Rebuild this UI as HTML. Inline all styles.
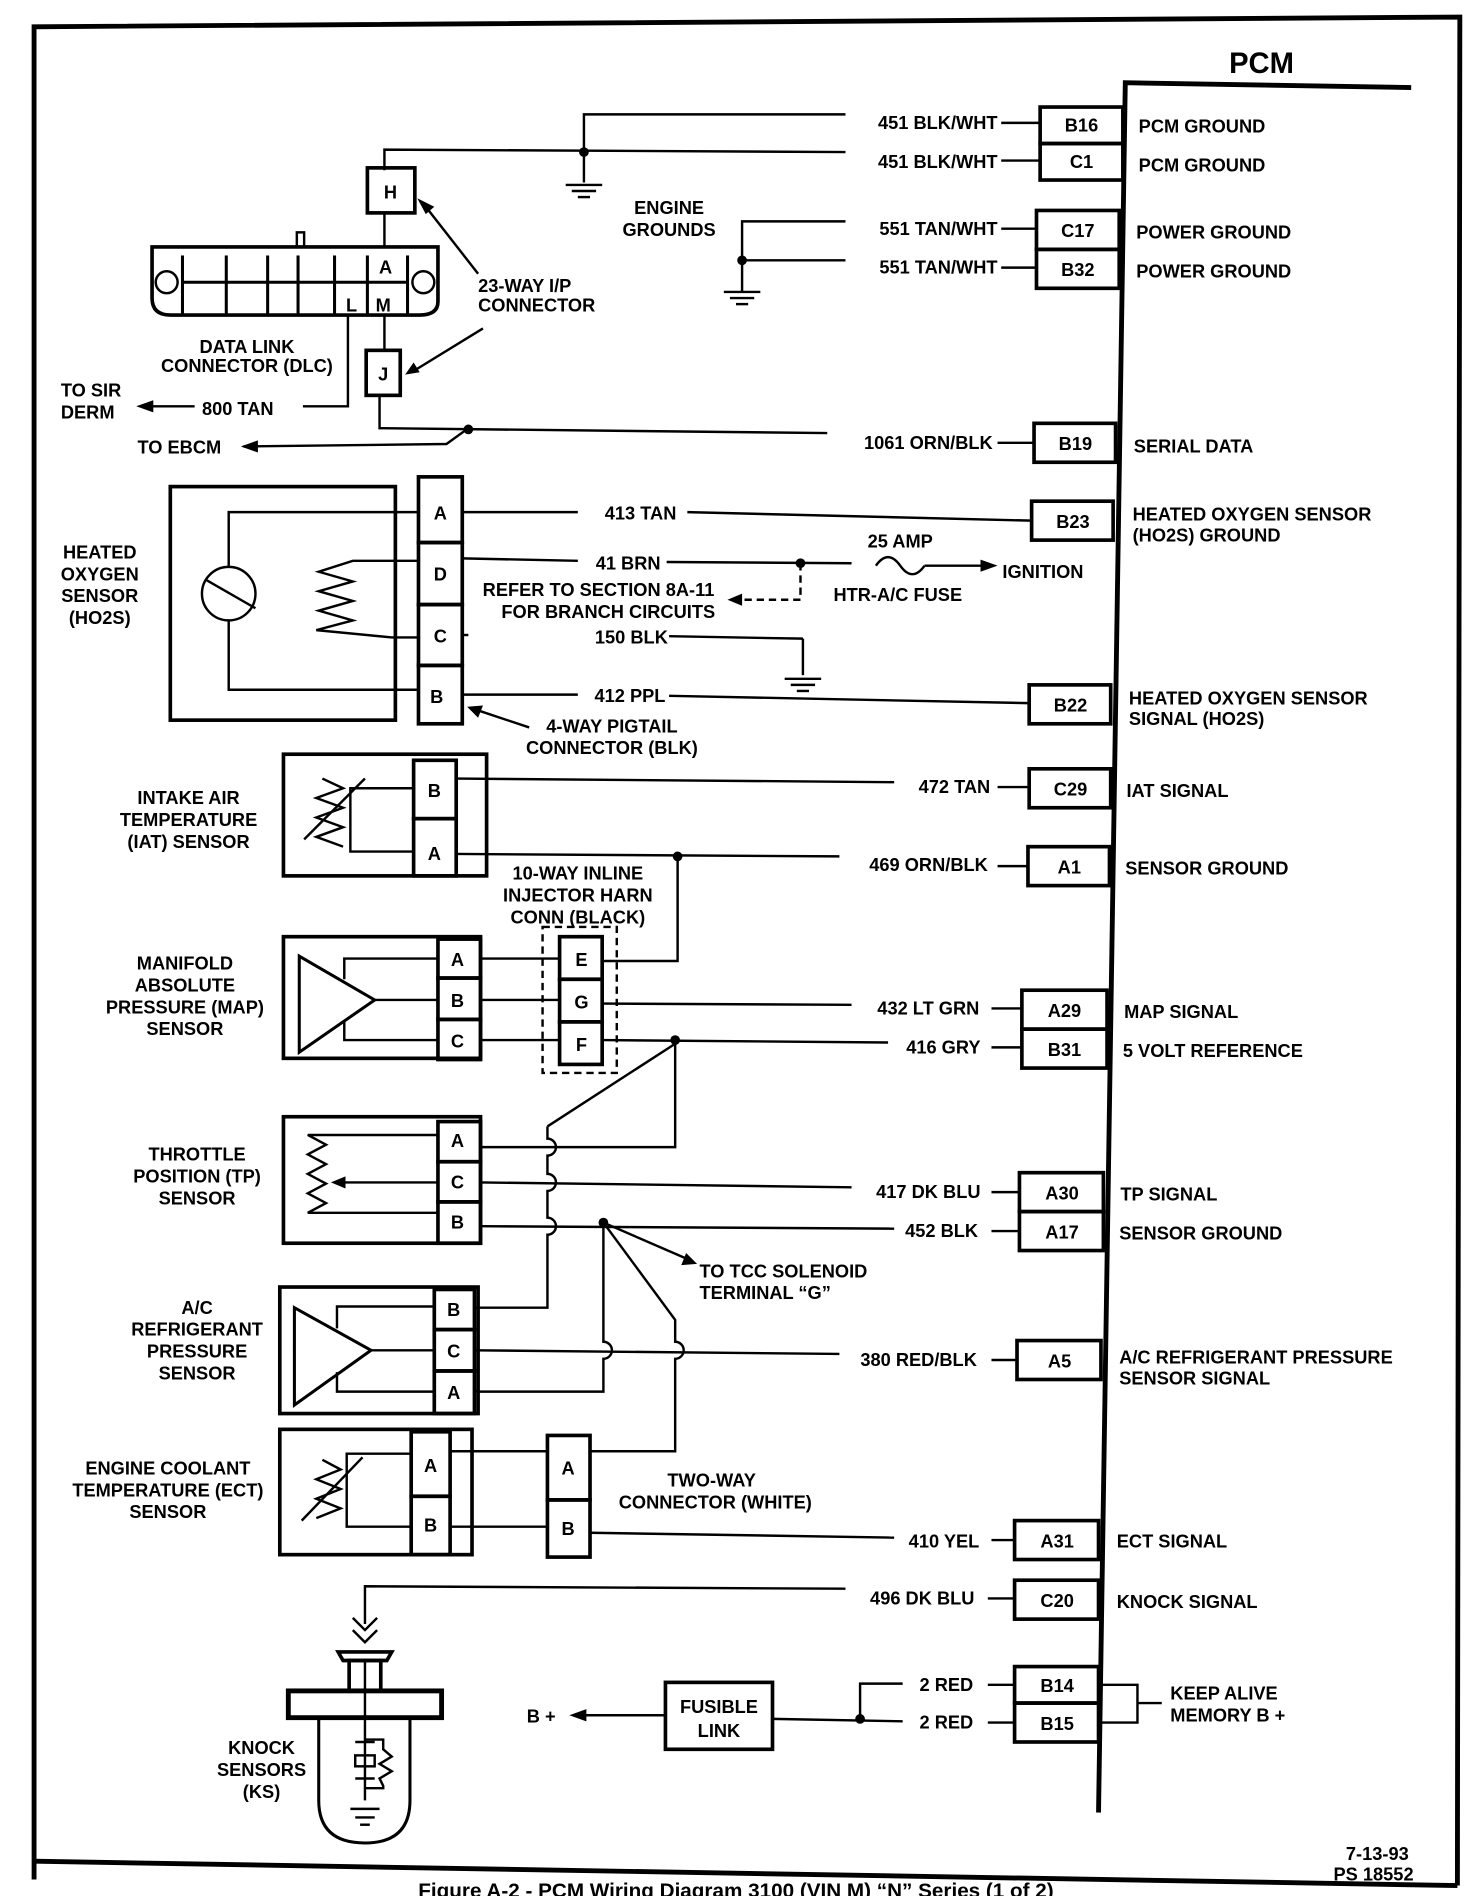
<!DOCTYPE html>
<html><head><meta charset="utf-8"><style>
html,body{margin:0;padding:0;background:#fff;}
svg{display:block}
text{font-family:"Liberation Sans",sans-serif;font-weight:bold;font-size:15px;fill:#000}
.c{text-anchor:middle}
.r{text-anchor:end}
</style></head><body>
<svg width="1472" height="1896" viewBox="0 0 1210 1558.6" preserveAspectRatio="none" xmlns="http://www.w3.org/2000/svg">
<g fill="none" stroke="#000" stroke-width="2">
<!-- frame -->
<polyline points="28,1545 28,22 1200,14 1198,1550" stroke-width="4"/>
<line x1="28" y1="1530" x2="1198" y2="1550" stroke-width="4"/>
<!-- PCM -->
<polyline points="1160,72 925,68 903,1490" stroke-width="4"/>
<!-- pin boxes -->
<g stroke-width="3">
<rect x="855" y="88" width="68" height="30"/><rect x="855" y="118" width="68" height="30"/>
<rect x="852" y="173" width="68" height="32"/><rect x="852" y="205" width="68" height="32"/>
<rect x="850" y="348" width="67" height="32"/>
<rect x="848" y="412" width="67" height="32"/>
<rect x="846" y="563" width="67" height="32"/>
<rect x="846" y="632" width="67" height="32"/>
<rect x="845" y="696" width="67" height="32"/>
<rect x="840" y="814" width="70" height="32"/><rect x="840" y="846" width="70" height="32"/>
<rect x="838" y="964" width="69" height="32"/><rect x="838" y="996" width="69" height="32"/>
<rect x="836" y="1102" width="69" height="32"/>
<rect x="834" y="1250" width="69" height="32"/>
<rect x="834" y="1299" width="69" height="32"/>
<rect x="834" y="1370" width="69" height="30"/><rect x="834" y="1400" width="69" height="32"/>
</g>
<!-- ground wires -->
<polyline points="480,125 480,94 695,94"/><line x1="823" y1="101" x2="855" y2="101"/>
<polyline points="316,140 316,123 695,125"/><line x1="823" y1="132" x2="855" y2="132"/>
<line x1="480" y1="125" x2="480" y2="150"/>
<line x1="465" y1="152" x2="495" y2="152"/><line x1="470" y1="157" x2="490" y2="157"/><line x1="475" y1="162" x2="485" y2="162"/>
<polyline points="610,240 610,182 695,182"/><line x1="823" y1="188" x2="852" y2="188"/>
<line x1="610" y1="214" x2="695" y2="214"/><line x1="823" y1="220" x2="852" y2="220"/>
<line x1="595" y1="240" x2="625" y2="240"/><line x1="600" y1="245" x2="620" y2="245"/><line x1="605" y1="250" x2="615" y2="250"/>
<!-- H / DLC / J -->
<rect x="302" y="138" width="39" height="37" stroke-width="3"/>
<line x1="316" y1="175" x2="316" y2="203"/>
<path d="M125,203 H360 V248 Q360,259 345,259 H140 Q125,259 125,245 Z" stroke-width="3"/>
<rect x="244" y="191" width="6" height="12" stroke-width="2"/>
<g stroke-width="2.5">
<line x1="150" y1="210" x2="150" y2="259"/><line x1="335" y1="210" x2="335" y2="259"/>
<line x1="150" y1="232" x2="335" y2="232"/>
<line x1="186" y1="210" x2="186" y2="259"/><line x1="220" y1="210" x2="220" y2="259"/><line x1="245" y1="210" x2="245" y2="259"/><line x1="275" y1="210" x2="275" y2="259"/><line x1="302" y1="210" x2="302" y2="259"/>
</g>
<circle cx="137" cy="232" r="9"/><circle cx="348" cy="232" r="9"/>
<polyline points="286,259 286,334 249,334"/>
<line x1="316" y1="259" x2="316" y2="288"/>
<rect x="301" y="288" width="28" height="37" stroke-width="3"/>
<polyline points="312,325 312,352 680,356"/><line x1="820" y1="364" x2="850" y2="364"/>
<polyline points="385,352 367,365 200,367"/>
<line x1="160" y1="334" x2="120" y2="334"/>
<line x1="393" y1="225" x2="350" y2="170"/><line x1="397" y1="270" x2="340" y2="305"/>
<!-- HO2S -->
<rect x="140" y="400" width="185" height="192" stroke-width="3"/>
<rect x="344" y="392" width="36" height="54" stroke-width="3"/><rect x="344" y="446" width="36" height="51" stroke-width="3"/>
<rect x="344" y="497" width="36" height="50" stroke-width="3"/><rect x="344" y="547" width="36" height="48" stroke-width="3"/>
<polyline points="344,421 188,421 188,466"/><polyline points="188,510 188,567 344,567"/>
<circle cx="188" cy="488" r="22"/><line x1="170" y1="477" x2="210" y2="500"/>
<polyline points="344,461 290,461 262,470 290,478 262,486 290,494 262,502 290,510 260,518 322,524 344,524"/>
<line x1="380" y1="421" x2="475" y2="421"/><line x1="565" y1="421" x2="848" y2="428"/>
<line x1="380" y1="459" x2="475" y2="461"/><line x1="548" y1="462" x2="700" y2="463"/>
<path d="M720,465 q10,-14 20,0 t20,0"/><line x1="760" y1="465" x2="810" y2="465"/>
<polyline points="658,463 658,493 600,493" stroke-dasharray="6,4"/>
<line x1="380" y1="522" x2="385" y2="522"/><line x1="550" y1="523" x2="660" y2="525"/>
<line x1="660" y1="525" x2="660" y2="555"/>
<line x1="645" y1="558" x2="675" y2="558"/><line x1="650" y1="563" x2="670" y2="563"/><line x1="655" y1="568" x2="665" y2="568"/>
<line x1="380" y1="571" x2="475" y2="571"/><line x1="550" y1="572" x2="846" y2="578"/>
<line x1="435" y1="598" x2="390" y2="583"/>
<!-- IAT -->
<rect x="233" y="620" width="167" height="100" stroke-width="3"/>
<rect x="340" y="625" width="35" height="48" stroke-width="3"/><rect x="340" y="673" width="35" height="47" stroke-width="3"/>
<polyline points="340,648 288,648 288,700 340,700"/>
<polyline points="265,640 282,648 260,656 282,664 260,672 282,680 260,688 282,696"/>
<line x1="250" y1="690" x2="300" y2="640"/>
<line x1="375" y1="640" x2="735" y2="643"/><line x1="820" y1="647" x2="846" y2="647"/>
<line x1="375" y1="702" x2="690" y2="704"/><line x1="820" y1="712" x2="845" y2="712"/>
<polyline points="557,704 557,790 495,790"/>
<!-- MAP -->
<rect x="233" y="770" width="162" height="100" stroke-width="3"/>
<rect x="360" y="772" width="35" height="32" stroke-width="3"/><rect x="360" y="804" width="35" height="34" stroke-width="3"/><rect x="360" y="838" width="35" height="33" stroke-width="3"/>
<polygon points="246,786 246,865 308,822" stroke-width="2.5"/>
<polyline points="360,788 283,788 283,805"/><line x1="308" y1="822" x2="360" y2="822"/><polyline points="360,855 283,855 283,840"/>
<rect x="446" y="762" width="61" height="120" stroke-dasharray="6,4"/>
<rect x="460" y="770" width="35" height="35" stroke-width="3"/><rect x="460" y="805" width="35" height="35" stroke-width="3"/><rect x="460" y="840" width="35" height="35" stroke-width="3"/>
<line x1="395" y1="788" x2="460" y2="788"/><line x1="395" y1="822" x2="460" y2="822"/><line x1="395" y1="855" x2="460" y2="855"/>
<line x1="495" y1="825" x2="700" y2="826"/><line x1="815" y1="829" x2="840" y2="829"/>
<line x1="495" y1="855" x2="730" y2="857"/><line x1="815" y1="861" x2="840" y2="861"/>
<polyline points="555,855 555,943 395,943"/>
<polyline points="555,858 450,926"/>
<!-- TP -->
<rect x="233" y="918" width="162" height="104" stroke-width="3"/>
<rect x="360" y="922" width="35" height="33" stroke-width="3"/><rect x="360" y="955" width="35" height="33" stroke-width="3"/><rect x="360" y="988" width="35" height="34" stroke-width="3"/>
<polyline points="360,933 253,933 268,941 253,949 268,957 253,965 268,973 253,981 268,989 253,997 360,997"/>
<line x1="360" y1="972" x2="282" y2="972"/>
<line x1="395" y1="972" x2="700" y2="976"/><line x1="815" y1="980" x2="838" y2="980"/>
<line x1="395" y1="1008" x2="735" y2="1010"/><line x1="815" y1="1012" x2="838" y2="1012"/>
<path d="M450,926 v10 a7,7 0 0 1 0,14 v15 a7,7 0 0 1 0,14 v22 a7,7 0 0 1 0,14 v60 H390"/>
<line x1="496" y1="1005" x2="565" y2="1035"/>
<path d="M496,1005 V1103 a7,7 0 0 1 0,14 V1144 H390"/>
<path d="M496,1005 L555,1085 V1103 a7,7 0 0 1 0,14 V1193 H485"/>
<!-- A/C -->
<rect x="230" y="1058" width="163" height="104" stroke-width="3"/>
<rect x="357" y="1060" width="33" height="33" stroke-width="3"/><rect x="357" y="1093" width="33" height="34" stroke-width="3"/><rect x="357" y="1127" width="33" height="35" stroke-width="3"/>
<polygon points="242,1075 242,1155 305,1110" stroke-width="2.5"/>
<polyline points="357,1074 277,1074 277,1092"/><line x1="305" y1="1110" x2="357" y2="1110"/><polyline points="357,1144 277,1144 277,1128"/>
<line x1="390" y1="1110" x2="690" y2="1113"/><line x1="815" y1="1118" x2="836" y2="1118"/>
<!-- ECT -->
<rect x="230" y="1175" width="158" height="103" stroke-width="3"/>
<rect x="338" y="1177" width="32" height="53" stroke-width="3"/><rect x="338" y="1230" width="32" height="48" stroke-width="3"/>
<polyline points="338,1195 285,1195 285,1255 338,1255"/>
<polyline points="265,1200 280,1208 260,1216 280,1224 260,1232 280,1240 260,1248"/>
<line x1="248" y1="1250" x2="298" y2="1198"/>
<rect x="450" y="1180" width="35" height="53" stroke-width="3"/><rect x="450" y="1233" width="35" height="47" stroke-width="3"/>
<line x1="370" y1="1193" x2="450" y2="1193"/><line x1="370" y1="1255" x2="450" y2="1255"/>
<line x1="485" y1="1260" x2="735" y2="1264"/><line x1="815" y1="1266" x2="834" y2="1266"/>
<!-- knock -->
<polyline points="300,1335 300,1304 695,1306"/><line x1="812" y1="1314" x2="834" y2="1314"/>
<polyline points="290,1330 300,1340 310,1330"/><polyline points="290,1340 300,1350 310,1340"/>
<polygon points="282,1365 318,1365 322,1358 278,1358" stroke-width="3"/>
<rect x="287" y="1365" width="26" height="25" stroke-width="3"/><line x1="300" y1="1365" x2="300" y2="1480"/>
<rect x="237" y="1390" width="126" height="22" stroke-width="4"/>
<path d="M262,1412 V1480 Q262,1515 300,1515 Q337,1515 337,1480 V1412" stroke-width="2.5"/>
<rect x="292" y="1443" width="16" height="9"/><line x1="292" y1="1432" x2="308" y2="1432"/><line x1="292" y1="1462" x2="308" y2="1462"/>
<polyline points="300,1430 315,1430 315,1438 322,1444 312,1450 322,1456 312,1462 315,1468 315,1470 300,1470"/>
<line x1="288" y1="1487" x2="312" y2="1487"/><line x1="292" y1="1494" x2="308" y2="1494"/><line x1="296" y1="1500" x2="304" y2="1500"/>
<!-- fusible -->
<rect x="547" y="1383" width="88" height="55" stroke-width="3"/>
<line x1="547" y1="1410" x2="475" y2="1410"/>
<line x1="635" y1="1413" x2="742" y2="1415"/>
<polyline points="707,1413 707,1384 742,1384"/>
<line x1="812" y1="1385" x2="834" y2="1385"/><line x1="812" y1="1416" x2="834" y2="1416"/>
<polyline points="903,1385 935,1385 935,1416 903,1416"/><line x1="935" y1="1400" x2="955" y2="1400"/>
</g>
<!-- dots & arrowheads -->
<g fill="#000">
<circle cx="480" cy="125" r="4"/><circle cx="610" cy="214" r="4"/><circle cx="385" cy="353" r="4"/>
<circle cx="658" cy="463" r="4"/><circle cx="557" cy="704" r="4"/><circle cx="555" cy="855" r="4"/>
<circle cx="496" cy="1005" r="4"/><circle cx="707" cy="1413" r="4"/>
<polygon points="198,367 212,362 212,372"/><polygon points="112,334 126,329 126,339"/>
<polygon points="343,163 357,170 350,176"/><polygon points="333,308 340,298 345,306"/>
<polygon points="598,493 610,488 610,498"/><polygon points="820,465 806,460 806,470"/>
<polygon points="384,581 397,580 393,590"/><polygon points="272,972 284,967 284,977"/>
<polygon points="573,1039 560,1040 564,1030"/><polygon points="468,1410 482,1405 482,1415"/>
</g>
<!-- text -->
<text x="1037" y="60" class="c" style="font-size:24px">PCM</text>
<g class="c">
<text x="889" y="108">B16</text><text x="889" y="138">C1</text>
<text x="886" y="195">C17</text><text x="886" y="227">B32</text>
<text x="884" y="370">B19</text><text x="882" y="434">B23</text>
<text x="880" y="585">B22</text><text x="880" y="654">C29</text>
<text x="879" y="718">A1</text><text x="875" y="836">A29</text><text x="875" y="868">B31</text>
<text x="873" y="986">A30</text><text x="873" y="1018">A17</text><text x="871" y="1124">A5</text>
<text x="869" y="1272">A31</text><text x="869" y="1321">C20</text>
<text x="869" y="1391">B14</text><text x="869" y="1422">B15</text>
<text x="321" y="163">H</text><text x="317" y="225">A</text><text x="289" y="256">L</text><text x="315" y="256">M</text><text x="315" y="313">J</text>
<text x="362" y="427">A</text><text x="362" y="477">D</text><text x="362" y="528">C</text><text x="359" y="578">B</text>
<text x="357" y="655">B</text><text x="357" y="707">A</text>
<text x="376" y="794">A</text><text x="376" y="828">B</text><text x="376" y="861">C</text>
<text x="478" y="794">E</text><text x="478" y="829">G</text><text x="478" y="864">F</text>
<text x="376" y="943">A</text><text x="376" y="977">C</text><text x="376" y="1010">B</text>
<text x="373" y="1082">B</text><text x="373" y="1116">C</text><text x="373" y="1150">A</text>
<text x="354" y="1210">A</text><text x="354" y="1259">B</text>
<text x="467" y="1212">A</text><text x="467" y="1262">B</text>
<text x="591" y="1408">FUSIBLE</text><text x="591" y="1428">LINK</text>
<text x="550" y="176">ENGINE</text><text x="550" y="194">GROUNDS</text>
<text x="203" y="290">DATA LINK</text><text x="203" y="306">CONNECTOR (DLC)</text>
<text x="82" y="459">HEATED</text><text x="82" y="477">OXYGEN</text><text x="82" y="495">SENSOR</text><text x="82" y="513">(HO2S)</text>
<text x="155" y="661">INTAKE AIR</text><text x="155" y="679">TEMPERATURE</text><text x="155" y="697">(IAT) SENSOR</text>
<text x="152" y="797">MANIFOLD</text><text x="152" y="815">ABSOLUTE</text><text x="152" y="833">PRESSURE (MAP)</text><text x="152" y="851">SENSOR</text>
<text x="162" y="954">THROTTLE</text><text x="162" y="972">POSITION (TP)</text><text x="162" y="990">SENSOR</text>
<text x="162" y="1080">A/C</text><text x="162" y="1098">REFRIGERANT</text><text x="162" y="1116">PRESSURE</text><text x="162" y="1134">SENSOR</text>
<text x="138" y="1212">ENGINE COOLANT</text><text x="138" y="1230">TEMPERATURE (ECT)</text><text x="138" y="1248">SENSOR</text>
<text x="215" y="1442">KNOCK</text><text x="215" y="1460">SENSORS</text><text x="215" y="1478">(KS)</text>
<text x="475" y="723">10-WAY INLINE</text><text x="475" y="741">INJECTOR HARN</text><text x="475" y="759">CONN (BLACK)</text>
<text x="492" y="490">REFER TO SECTION 8A-11</text><text x="500" y="508">FOR BRANCH CIRCUITS</text>
<text x="503" y="602">4-WAY PIGTAIL</text><text x="503" y="620">CONNECTOR (BLK)</text>
<text x="585" y="1222">TWO-WAY</text><text x="588" y="1240">CONNECTOR (WHITE)</text>
<text x="740" y="450">25 AMP</text><text x="738" y="494">HTR-A/C FUSE</text>
</g>
<text x="393" y="240">23-WAY I/P</text><text x="393" y="256">CONNECTOR</text>
<text x="50" y="326">TO SIR</text><text x="50" y="344">DERM</text>
<text x="166" y="341">800 TAN</text><text x="113" y="373">TO EBCM</text>
<text x="824" y="475">IGNITION</text>
<text x="575" y="1050">TO TCC SOLENOID</text><text x="575" y="1068">TERMINAL “G”</text>
<text x="433" y="1416">B +</text>
<g class="r">
<text x="820" y="106">451 BLK/WHT</text><text x="820" y="138">451 BLK/WHT</text>
<text x="820" y="193">551 TAN/WHT</text><text x="820" y="225">551 TAN/WHT</text>
<text x="816" y="369">1061 ORN/BLK</text>
<text x="556" y="427">413 TAN</text><text x="543" y="468">41 BRN</text><text x="549" y="529">150 BLK</text><text x="547" y="577">412 PPL</text>
<text x="814" y="652">472 TAN</text><text x="812" y="716">469 ORN/BLK</text>
<text x="805" y="834">432 LT GRN</text><text x="806" y="866">416 GRY</text>
<text x="806" y="985">417 DK BLU</text><text x="804" y="1017">452 BLK</text>
<text x="803" y="1123">380 RED/BLK</text><text x="805" y="1272">410 YEL</text><text x="801" y="1319">496 DK BLU</text>
<text x="800" y="1390">2 RED</text><text x="800" y="1421">2 RED</text>
<text x="1158" y="1529">7-13-93</text><text x="1162" y="1546">PS 18552</text>
</g>
<text x="936" y="109">PCM GROUND</text><text x="936" y="141">PCM GROUND</text>
<text x="934" y="196">POWER GROUND</text><text x="934" y="228">POWER GROUND</text>
<text x="932" y="372">SERIAL DATA</text>
<text x="931" y="428">HEATED OXYGEN SENSOR</text><text x="931" y="445">(HO2S) GROUND</text>
<text x="928" y="579">HEATED OXYGEN SENSOR</text><text x="928" y="596">SIGNAL (HO2S)</text>
<text x="926" y="655">IAT SIGNAL</text><text x="925" y="719">SENSOR GROUND</text>
<text x="924" y="837">MAP SIGNAL</text><text x="923" y="869">5 VOLT REFERENCE</text>
<text x="921" y="987">TP SIGNAL</text><text x="920" y="1019">SENSOR GROUND</text>
<text x="920" y="1121">A/C REFRIGERANT PRESSURE</text><text x="920" y="1138">SENSOR SIGNAL</text>
<text x="918" y="1272">ECT SIGNAL</text><text x="918" y="1322">KNOCK SIGNAL</text>
<text x="962" y="1397">KEEP ALIVE</text><text x="962" y="1415">MEMORY B +</text>
<text x="605" y="1560" class="c" style="font-size:17px">Figure A-2 - PCM Wiring Diagram 3100 (VIN M) “N” Series (1 of 2)</text>
</svg>
</body></html>
